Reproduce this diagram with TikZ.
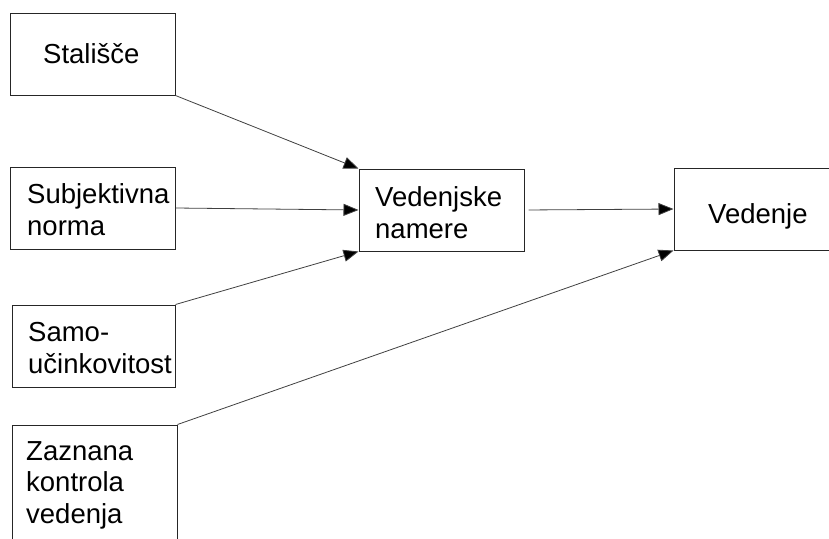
\documentclass[tikz,border=0pt]{standalone}
\usepackage{fontspec}
\setmainfont{Liberation Sans}
\usetikzlibrary{arrows.meta}
\begin{document}
\begin{tikzpicture}[x=1pt,y=-1pt,
  box/.style={draw=black!85,line width=1pt,rectangle,inner sep=0pt},
  txt/.style={anchor=base west,inner sep=0pt,align=left,font=\fontsize{27.5}{31.5}\selectfont},
  conn/.style={draw=black!75,line width=0.8pt,-{Triangle[length=15pt,width=12pt,fill=black]}}]
\useasboundingbox (0,0) rectangle (829,538);
\clip (0,0) rectangle (829,538);
% boxes
\node[box,minimum width=165pt,minimum height=82pt] (stal) at (92.5,54) {};
\node[box,minimum width=165pt,minimum height=82pt] (sub) at (92.5,208) {};
\node[box,minimum width=163pt,minimum height=82pt] (samo) at (93.5,346) {};
\node[box,minimum width=165pt,minimum height=140pt] (zaz) at (94.5,495) {};
\node[box,minimum width=165pt,minimum height=82pt] (vn) at (441.5,210) {};
\node[box,minimum width=170pt,minimum height=82pt] (ved) at (759,209) {};
% texts (base = last line)
\node[txt] (t1) at (43,63) {Stališče};
\node[txt] (t2) at (27,235) {Subjektivna\\norma};
\node[txt] (t3) at (28,373) {Samo-\\učinkovitost};
\node[txt] (t4) at (26,523) {Zaznana\\kontrola\\vedenja};
\node[txt] (t5) at (375,238) {Vedenjske\\namere};
\node[txt] (t6) at (708,223) {Vedenje};
% connectors
\draw[conn] (stal.south east) -- (vn.north west);
\draw[conn] (sub.east) -- (vn.west);
\draw[conn] (samo.north east) -- (vn.south west);
\draw[conn] (zaz.north east) -- (ved.south west);
\draw[conn,shorten <=4pt] (vn.east) -- (ved.west);
\end{tikzpicture}
\end{document}
